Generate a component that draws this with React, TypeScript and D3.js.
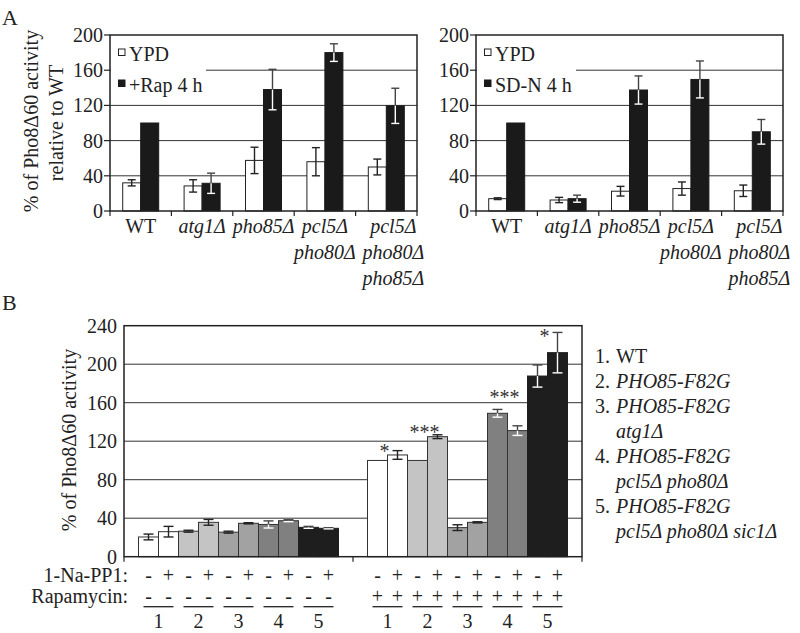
import React from 'react';
import * as d3 from 'd3';

const FONT = '"Liberation Serif", "Times New Roman", serif';
const TS = { fontFamily: FONT };

// ---------- Panel A data ----------
const strainsA = ['WT', 'atg1Δ', 'pho85Δ', 'pcl5Δ pho80Δ', 'pcl5Δ pho80Δ pho85Δ'];
const ticksA = [0, 40, 80, 120, 160, 200];

const ypdRap = [32, 28.5, 57.5, 56, 50];
const ypdRapErr = [3.5, 7, 15, 16, 9];
const rap4h = [100, 31.5, 138, 180, 119.5];
const rap4hErr = [0, 11.5, 23, 10, 20];

const ypdSdn = [14, 12.5, 22.5, 25.5, 23];
const ypdSdnErr = [1, 3, 5.5, 7.5, 6.5];
const sdn4h = [100, 14, 137.5, 149.5, 90];
const sdn4hErr = [0, 4, 16, 21, 14];

// ---------- Panel B data ----------
const strainNumsB = ['1', '2', '3', '4', '5'];
const ticksB = [0, 40, 80, 120, 160, 200, 240];
const strainFills = ['#ffffff', '#c4c4c4', '#a2a2a2', '#808080', '#1e1e1e'];

// no rapamycin
const noRapMinus = [20.5, 26.5, 25.5, 33.5, 30.5];
const noRapMinusErr = [3, 1, 1, 3.7, 1];
const noRapPlus = [26, 35.7, 34.7, 37.4, 29.5];
const noRapPlusErr = [5.5, 3, 0.6, 1, 0.6];
// rapamycin
const rapMinus = [100, 100, 30.2, 149, 187.7];
const rapMinusErr = [0, 0, 3, 4, 11.5];
const rapPlus = [105.7, 124.7, 35.7, 131, 212];
const rapPlusErr = [4.5, 2, 0.6, 5, 21];
const rapStars = ['*', '***', '', '***', '*'];
const rapStarLevel = [113, 133, 0, 169, 232];

const legendB = [
  { num: '1.', lines: ['WT'], italic: false },
  { num: '2.', lines: ['PHO85-F82G'], italic: true },
  { num: '3.', lines: ['PHO85-F82G', 'atg1Δ'], italic: true },
  { num: '4.', lines: ['PHO85-F82G', 'pcl5Δ pho80Δ'], italic: true },
  { num: '5.', lines: ['PHO85-F82G', 'pcl5Δ pho80Δ sic1Δ'], italic: true },
];

type ErrProps = { cx: number; v: number; e: number; y: d3.ScaleLinear<number, number>; dark: boolean; hw: number };

function ErrBar({ cx, v, e, y, dark, hw }: ErrProps) {
  if (e <= 0) return null;
  const top = y(v + e);
  const bot = y(v - e);
  const bar = y(v);
  const outCol = dark ? '#444' : '#222';
  const inCol = dark ? '#ffffff' : '#222';
  return (
    <g strokeWidth={1.4}>
      <line x1={cx} x2={cx} y1={top} y2={bar} stroke={outCol} />
      <line x1={cx} x2={cx} y1={bar} y2={bot} stroke={inCol} />
      <line x1={cx - hw} x2={cx + hw} y1={top} y2={top} stroke={outCol} />
      <line x1={cx - hw} x2={cx + hw} y1={bot} y2={bot} stroke={inCol} />
    </g>
  );
}

type PanelAProps = {
  x0: number;
  x1: number;
  white: number[];
  whiteErr: number[];
  black: number[];
  blackErr: number[];
  legend: string[];
  legendCover: number;
};

function PanelA({ x0, x1, white, whiteErr, black, blackErr, legend, legendCover }: PanelAProps) {
  const y = d3.scaleLinear().domain([0, 200]).range([211, 35]);
  const x = d3.scaleBand<string>().domain(strainsA).range([x0, x1]).paddingInner(0).paddingOuter(0);
  const bw = 18;
  const bottom = y(0);
  const top = y(200);
  return (
    <g>
      {ticksA.slice(1, -1).map((t) => (
        <line key={t} x1={x0} x2={x1} y1={y(t)} y2={y(t)} stroke="#333" strokeWidth={1} />
      ))}
      <rect x={x0 + 1} y={41} width={legendCover - x0 - 1} height={56} fill="#fff" />
      {strainsA.map((s, i) => {
        const c = (x(s) as number) + x.bandwidth() / 2;
        return (
          <g key={s}>
            <rect x={c - bw} y={y(white[i])} width={bw} height={bottom - y(white[i])} fill="#fff" stroke="#222" strokeWidth={1} />
            <rect x={c} y={y(black[i])} width={bw} height={bottom - y(black[i])} fill="#1a1a1a" stroke="#1a1a1a" strokeWidth={1} />
            <ErrBar cx={c - bw / 2} v={white[i]} e={whiteErr[i]} y={y} dark={false} hw={4} />
            <ErrBar cx={c + bw / 2} v={black[i]} e={blackErr[i]} y={y} dark={true} hw={4} />
          </g>
        );
      })}
      <rect x={x0} y={top} width={x1 - x0} height={bottom - top} fill="none" stroke="#222" strokeWidth={1.5} />
      {ticksA.map((t) => (
        <g key={t}>
          <line x1={x0 - 6} x2={x0} y1={y(t)} y2={y(t)} stroke="#222" strokeWidth={1.2} />
          <text x={x0 - 7} y={y(t)} dy="0.35em" textAnchor="end" fontSize={20} fill="#222" style={TS}>
            {t}
          </text>
        </g>
      ))}
      {strainsA.map((s) => (
        <line key={s} x1={x(s) as number} x2={x(s) as number} y1={bottom} y2={bottom + 5} stroke="#222" strokeWidth={1.2} />
      ))}
      <line x1={x1} x2={x1} y1={bottom} y2={bottom + 5} stroke="#222" strokeWidth={1.2} />
      {strainsA.map((s) => {
        const c = (x(s) as number) + x.bandwidth() / 2;
        const lines = s.split(' ');
        const dx = lines.length === 3 ? 7 : 0;
        return lines.map((ln, j) => (
          <text
            key={s + j}
            x={c + dx}
            y={233 + j * 26}
            textAnchor="middle"
            fontSize={20}
            fontStyle={s === 'WT' ? 'normal' : 'italic'}
            fill="#222"
            style={TS}
          >
            {ln}
          </text>
        ));
      })}
      <rect x={x0 + 8.5} y={49} width={6.5} height={6.5} fill="#fff" stroke="#222" strokeWidth={1} />
      <text x={x0 + 19} y={61} fontSize={20} fill="#222" style={TS}>{legend[0]}</text>
      <rect x={x0 + 8.5} y={80} width={6.5} height={6.5} fill="#1a1a1a" stroke="#1a1a1a" strokeWidth={1} />
      <text x={x0 + 19} y={92} fontSize={20} fill="#222" style={TS}>{legend[1]}</text>
    </g>
  );
}

function PanelB() {
  const x0 = 124;
  const x1 = 582;
  const y = d3.scaleLinear().domain([0, 240]).range([556.7, 325.7]);
  const halves = d3.scaleBand<number>().domain([0, 1]).range([x0, x1]).padding(0);
  const bottom = y(0);
  const top = y(240);
  const halfData = [
    { minus: noRapMinus, minusErr: noRapMinusErr, plus: noRapPlus, plusErr: noRapPlusErr, rap: '-' },
    { minus: rapMinus, minusErr: rapMinusErr, plus: rapPlus, plusErr: rapPlusErr, rap: '+' },
  ];
  return (
    <g>
      {ticksB.slice(1, -1).map((t) => (
        <line key={t} x1={x0} x2={x1} y1={y(t)} y2={y(t)} stroke="#333" strokeWidth={1} />
      ))}
      {halfData.map((hd, h) => {
        const hx = halves(h) as number;
        const bx = d3
          .scaleBand<number>()
          .domain(d3.range(10))
          .range([hx, hx + halves.bandwidth()])
          .paddingInner(0)
          .paddingOuter(0.725);
        const bw = bx.bandwidth();
        return (
          <g key={h}>
            {strainNumsB.map((s, i) => {
              const xm = bx(2 * i) as number;
              const xp = bx(2 * i + 1) as number;
              const fill = strainFills[i];
              const dark = i >= 3;
              const stroke = i === 4 ? '#1e1e1e' : '#333';
              return (
                <g key={s}>
                  <rect x={xm} y={y(hd.minus[i])} width={bw} height={bottom - y(hd.minus[i])} fill={fill} stroke={stroke} strokeWidth={1} />
                  <rect x={xp} y={y(hd.plus[i])} width={bw} height={bottom - y(hd.plus[i])} fill={fill} stroke={stroke} strokeWidth={1} />
                  <ErrBar cx={xm + bw / 2} v={hd.minus[i]} e={hd.minusErr[i]} y={y} dark={dark} hw={5} />
                  <ErrBar cx={xp + bw / 2} v={hd.plus[i]} e={hd.plusErr[i]} y={y} dark={dark} hw={5} />
                  <text x={xm + bw / 2} y={582} textAnchor="middle" fontSize={20} fill="#222" style={TS}>-</text>
                  <text x={xp + bw / 2} y={582} textAnchor="middle" fontSize={20} fill="#222" style={TS}>+</text>
                  <text x={xm + bw / 2} y={603} textAnchor="middle" fontSize={20} fill="#222" style={TS}>{hd.rap}</text>
                  <text x={xp + bw / 2} y={603} textAnchor="middle" fontSize={20} fill="#222" style={TS}>{hd.rap}</text>
                  <line x1={xm + 5} x2={xp + bw - 5} y1={606.7} y2={606.7} stroke="#222" strokeWidth={1.3} />
                  <text x={xp} y={628} textAnchor="middle" fontSize={20} fill="#222" style={TS}>{s}</text>
                  {h === 1 && rapStars[i] && (
                    <text x={xp - 3} y={y(rapStarLevel[i]) + 10} textAnchor="middle" fontSize={20} fill="#333" style={TS}>
                      {rapStars[i]}
                    </text>
                  )}
                </g>
              );
            })}
          </g>
        );
      })}
      <rect x={x0} y={top} width={x1 - x0} height={bottom - top} fill="none" stroke="#222" strokeWidth={1.5} />
      {[x0, halves(1) as number, x1].map((tx, i) => (
        <line key={i} x1={tx} x2={tx} y1={bottom} y2={bottom + 5} stroke="#222" strokeWidth={1.2} />
      ))}
      {ticksB.map((t) => (
        <text key={t} x={117} y={y(t)} dy="0.35em" textAnchor="end" fontSize={20} fill="#222" style={TS}>
          {t}
        </text>
      ))}
      <text transform="translate(76,440) rotate(-90)" textAnchor="middle" fontSize={20} fill="#222" style={TS}>
        % of Pho8Δ60 activity
      </text>
      <text x={128} y={582} textAnchor="end" fontSize={20} fill="#222" style={TS}>1-Na-PP1:</text>
      <text x={128} y={603} textAnchor="end" fontSize={20} fill="#222" style={TS}>Rapamycin:</text>
      {(() => {
        let row = 0;
        return legendB.map((item) => {
          const out = item.lines.map((ln, j) => {
            const yy = 363 + (row + j) * 25;
            return (
              <g key={item.num + j}>
                {j === 0 && (
                  <text x={595} y={yy} fontSize={20} fill="#222" style={TS}>{item.num}</text>
                )}
                <text x={616} y={yy} fontSize={20} fontStyle={item.italic ? 'italic' : 'normal'} fill="#222" style={TS}>
                  {ln}
                </text>
              </g>
            );
          });
          row += item.lines.length;
          return out;
        });
      })()}
    </g>
  );
}

export default function App() {
  return (
    <div style={{ position: 'absolute', left: 0, top: 0 }}>
      <svg width={800} height={633} style={{ display: 'block', background: '#fff', fontFamily: FONT }}>
        <rect x={0} y={0} width={800} height={633} fill="#fff" />
        <text x={2} y={25} fontSize={22} fill="#222" style={TS}>A</text>
        <text x={2} y={310} fontSize={22} fill="#222" style={TS}>B</text>
        <text transform="translate(38,121) rotate(-90)" textAnchor="middle" fontSize={20} fill="#222" style={TS}>
          % of Pho8Δ60 activity
        </text>
        <text transform="translate(63,123) rotate(-90)" textAnchor="middle" fontSize={20} fill="#222" style={TS}>
          relative to WT
        </text>
        <PanelA
          x0={110}
          x1={417}
          white={ypdRap}
          whiteErr={ypdRapErr}
          black={rap4h}
          blackErr={rap4hErr}
          legend={['YPD', '+Rap 4 h']}
          legendCover={206}
        />
        <PanelA
          x0={476}
          x1={783}
          white={ypdSdn}
          whiteErr={ypdSdnErr}
          black={sdn4h}
          blackErr={sdn4hErr}
          legend={['YPD', 'SD-N 4 h']}
          legendCover={576}
        />
        <PanelB />
      </svg>
    </div>
  );
}
